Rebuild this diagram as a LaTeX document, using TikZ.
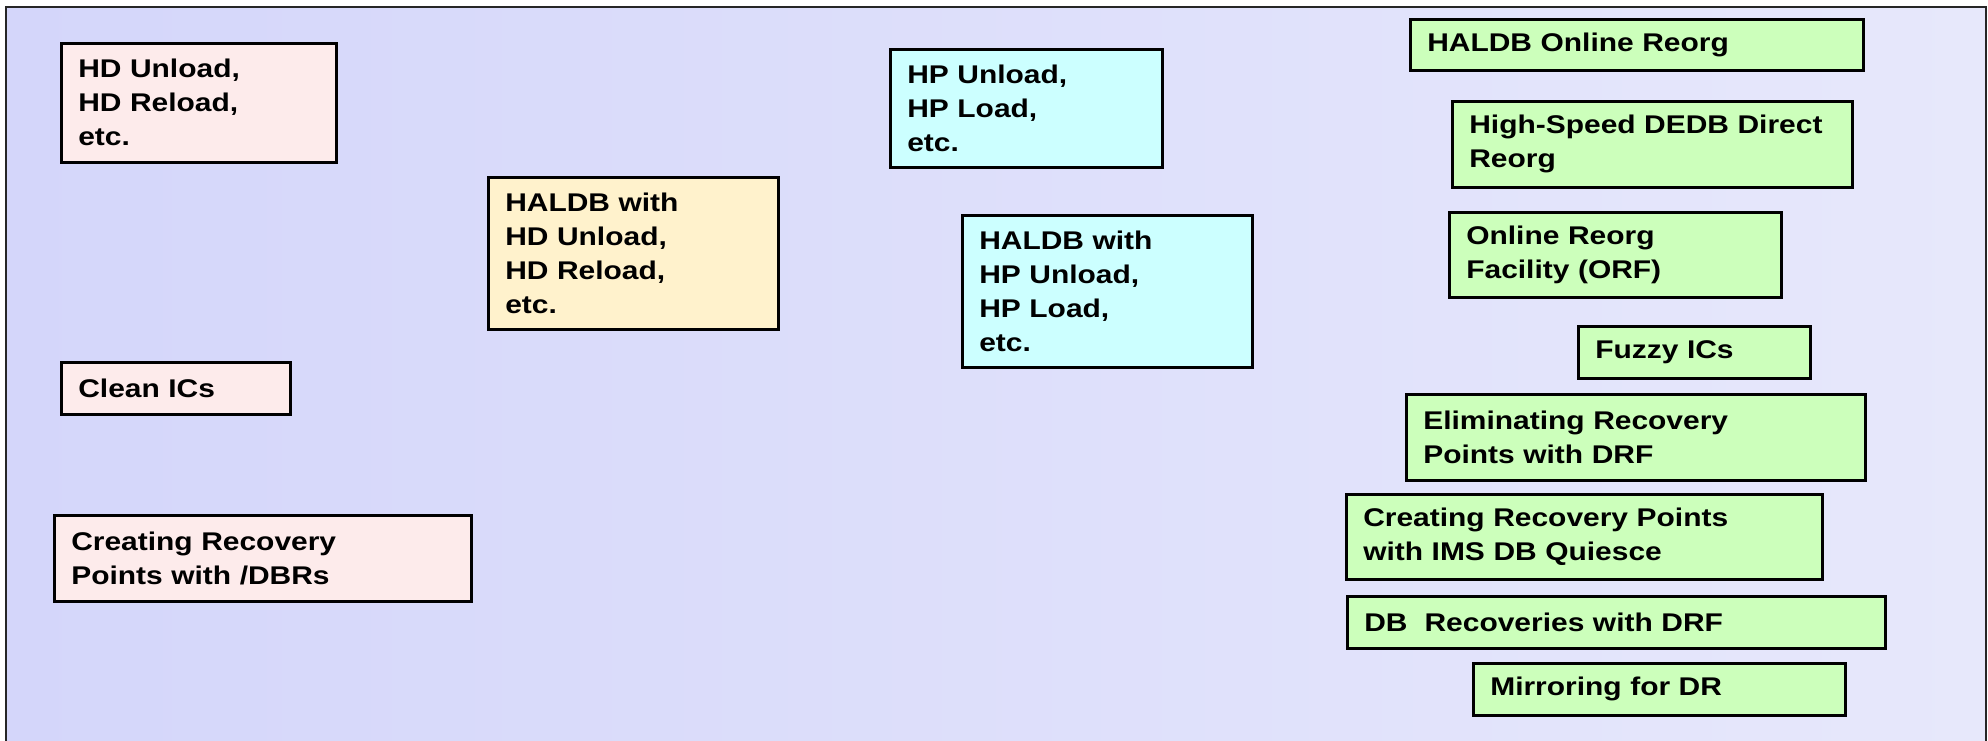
\documentclass[tikz,border=0pt]{standalone}
\usepackage{fontspec}
\setmainfont{Liberation Sans}[FakeStretch=1.17]
\definecolor{bgleft}{RGB}{212,214,250}
\definecolor{bgright}{RGB}{231,232,251}
\definecolor{tilepink}{RGB}{253,235,235}
\definecolor{tilesand}{RGB}{255,242,204}
\definecolor{tilecyan}{RGB}{204,255,255}
\definecolor{tilegreen}{RGB}{204,255,187}
\tikzset{
  tile/.style 2 args={draw=black, line width=1.3pt, anchor=north west, align=left,
    inner xsep=8.5pt, inner ysep=2pt, text width=#1, minimum height=#2,
    font=\fontsize{12.8pt}{17pt}\selectfont\bfseries},
  pinkbox/.style={fill=tilepink},
  sandbox/.style={fill=tilesand},
  cyanbox/.style={fill=tilecyan},
  greenbox/.style={fill=tilegreen}
}

\begin{document}
\begin{tikzpicture}[x=0.5pt, y=-0.5pt]
    \clip (0,0) rectangle (1988,740);
    \fill[white] (0,0) rectangle (1988,740);
    \shadedraw[left color=bgleft, right color=bgright, draw=black!85, line width=1pt]
        (6,7) rectangle (1986,760);

    \node[tile={120.5pt}{59.5pt}, pinkbox] (hdUnload) at (60,42)
        {HD Unload,\\HD Reload,\\etc.};
    \node[tile={128pt}{76pt}, sandbox] (haldbHd) at (487,176)
        {HALDB with\\HD Unload,\\HD Reload,\\etc.};
    \node[tile={97.5pt}{26pt}, pinkbox] (cleanIc) at (60,361)
        {Clean ICs};
    \node[tile={191.5pt}{43pt}, pinkbox] (dbrPoints) at (53,514)
        {Creating Recovery\\Points with /DBRs};

    \node[tile={119pt}{59pt}, cyanbox] (hpUnload) at (889,48)
        {HP Unload,\\HP Load,\\etc.};
    \node[tile={128pt}{76pt}, cyanbox] (haldbHp) at (961,214)
        {HALDB with\\HP Unload,\\HP Load,\\etc.};

    \node[tile={209.5pt}{25.5pt}, greenbox] (haldbOlr) at (1409,18)
        {HALDB Online Reorg};
    \node[tile={183pt}{43pt}, greenbox] (dedbReorg) at (1451,100)
        {High-Speed DEDB Direct\\Reorg};
    \node[tile={149pt}{42.5pt}, greenbox] (orfReorg) at (1448,211)
        {Online Reorg\\Facility (ORF)};
    \node[tile={99pt}{26pt}, greenbox] (fuzzyIc) at (1577,325)
        {Fuzzy ICs};
    \node[tile={212.5pt}{43pt}, greenbox] (drfElim) at (1405,393)
        {Eliminating Recovery\\Points with DRF};
    \node[tile={221pt}{42.5pt}, greenbox] (dbQuiesce) at (1345,493)
        {Creating Recovery Points\\with IMS DB Quiesce};
    \node[tile={252pt}{26pt}, greenbox] (drfRecov) at (1346,595)
        {DB\ \ Recoveries with DRF};
    \node[tile={169pt}{26pt}, greenbox] (drMirror) at (1472,662)
        {Mirroring for DR};
\end{tikzpicture}
\end{document}
